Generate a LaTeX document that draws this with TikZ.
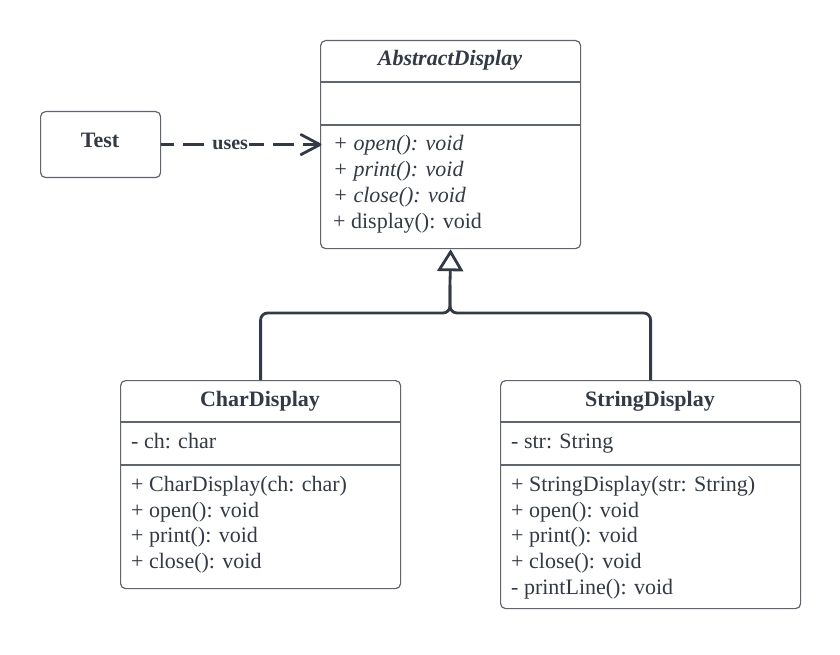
\documentclass[tikz,border=0pt]{standalone}
\usepackage{fontspec}
\setmainfont{Liberation Serif}
\usetikzlibrary{arrows.meta}
\definecolor{ink}{RGB}{51,58,69}
\definecolor{edgecol}{RGB}{95,100,110}
\newcommand\fsz{\fontsize{22}{26}\selectfont}
\begin{document}
\begin{tikzpicture}[x=1pt,y=-1pt,
 box/.style={draw=edgecol, line width=1.2pt, rounded corners=5pt, anchor=north west, inner sep=0pt, fill=white},
 txt/.style={anchor=base west, inner sep=0pt, text=ink, font=\fsz},
 itxt/.style={anchor=base west, inner sep=0pt, text=ink, font=\fsz\itshape},
 ttl/.style={anchor=base, inner sep=0pt, text=ink, font=\fsz\bfseries},
 divider/.style={draw=edgecol, line width=1.2pt},
 conn/.style={draw=ink, line width=2.8pt}]
\path[use as bounding box] (0,0) rectangle (840,655);

% Test
\node[box, minimum width=120pt, minimum height=66pt] (test) at (40,111) {};
\node[ttl] (testT) at (100,148) {Test};

% AbstractDisplay
\node[box, minimum width=260pt, minimum height=208pt] (abs) at (320,40) {};
\node[ttl, font=\fsz\bfseries\itshape] (absT) at (450,66) {AbstractDisplay};
\draw[divider] (320,82) -- (580,82);
\draw[divider] (320,125) -- (580,125);
\node[itxt] (a1) at (333,151) {+ open(): void};
\node[itxt] (a2) at (333,177) {+ print(): void};
\node[itxt] (a3) at (333,202) {+ close(): void};
\node[txt] (a4) at (333,228) {+ display(): void};

% CharDisplay
\node[box, minimum width=280pt, minimum height=208pt] (char) at (120,380) {};
\node[ttl] (charT) at (260,406) {CharDisplay};
\draw[divider] (120,422) -- (400,422);
\draw[divider] (120,465) -- (400,465);
\node[txt] (c0) at (131,448) {- ch: char};
\node[txt] (c1) at (131,491) {+ CharDisplay(ch: char)};
\node[txt] (c2) at (131,517) {+ open(): void};
\node[txt] (c3) at (131,542) {+ print(): void};
\node[txt] (c4) at (131,568) {+ close(): void};

% StringDisplay
\node[box, minimum width=300pt, minimum height=228pt] (str) at (500,380) {};
\node[ttl] (strT) at (650,406) {StringDisplay};
\draw[divider] (500,422) -- (800,422);
\draw[divider] (500,465) -- (800,465);
\node[txt] (s0) at (511,448) {- str: String};
\node[txt] (s1) at (511,491) {+ StringDisplay(str: String)};
\node[txt] (s2) at (511,517) {+ open(): void};
\node[txt] (s3) at (511,542) {+ print(): void};
\node[txt] (s4) at (511,568) {+ close(): void};
\node[txt] (s5) at (511,594) {- printLine(): void};

% uses dependency
\coordinate (tip) at (abs.west |- test.east);
\draw[conn, dash pattern=on 21pt off 9pt, dash phase=8pt] (test.east) -- ([xshift=-2pt]tip)
  node[pos=0.44, fill=white, inner sep=1pt, text=ink, font=\fontsize{20}{24}\selectfont\bfseries] (uses) {uses};
\draw[conn, line join=round, line cap=round] ([shift={(-19,-10)}]tip) -- (tip) -- ([shift={(-19,10)}]tip);

% generalization
\coordinate (j) at (450,313);
\coordinate (j2) at (450,285);
\draw[conn, rounded corners=7pt] (char.north) |- (j) -- (j2);
\draw[conn, rounded corners=7pt] (str.north) |- (j) -- (j2);
\draw[conn, -{Triangle[open, length=22pt, width=26pt, fill=white]}] (j2) -- (abs.south);
\end{tikzpicture}
\end{document}
